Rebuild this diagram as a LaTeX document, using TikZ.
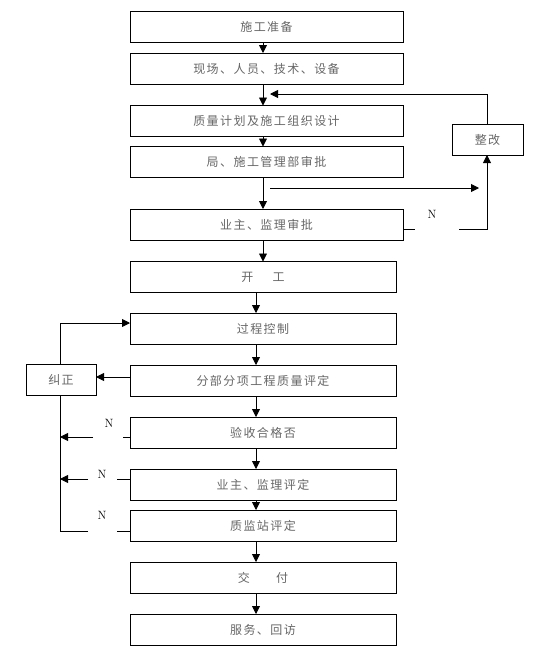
\documentclass[tikz,border=0pt]{standalone}
\usepackage{fontspec}
\newfontfamily\cjk{Noto Sans CJK SC}[LetterSpace=12]
\usetikzlibrary{arrows.meta}
\tikzset{
  box/.style={draw, line width=0.9pt, inner sep=0pt, outer sep=0pt, minimum height=31pt,
    font=\cjk\fontsize{12}{12}\selectfont, text=black!60},
  wide/.style={box, minimum width=273pt},
  narrow/.style={box, minimum width=266pt},
  conn/.style={line width=0.9pt},
  arr/.style={conn, -{Triangle[length=8pt,width=8pt]}},
  nlab/.style={font=\fontsize{12}{12}\selectfont, inner sep=0pt}
}
\begin{document}
\begin{tikzpicture}[x=1pt,y=-1pt]
\useasboundingbox (0,0) rectangle (534,656);
% top column
\node[wide] (A) at (266.5,26.5) {施工准备};
\node[wide] (B) at (266.5,68.5) {现场、人员、技术、设备};
\node[wide] (C) at (266.5,121) {质量计划及施工组织设计};
\node[wide] (D) at (266.5,162) {局、施工管理部审批};
\node[wide] (E) at (266.5,224.5) {业主、监理审批};
% lower column
\node[narrow] (F) at (263,277) {开\hspace{1.6em}工};
\node[narrow] (G) at (263,328.5) {过程控制};
\node[narrow] (H) at (263,380.5) {分部分项工程质量评定};
\node[narrow] (I) at (263,432.5) {验收合格否};
\node[narrow] (J) at (263,484.5) {业主、监理评定};
\node[narrow] (K) at (263,525.5) {质监站评定};
\node[narrow] (L) at (263,577.5) {交\hspace{2.2em}付};
\node[narrow] (M) at (263,629.5) {服务、回访};
% side boxes
\node[box, minimum width=71pt] (Z) at (487.5,139.5) {整改};
\node[box, minimum width=70pt] (R) at (61,380) {纠正};
% x positions
\coordinate (xa) at (263,0);
\coordinate (xb) at (256,0);
\coordinate (xz) at (487,0);
\coordinate (xr) at (60,0);
% main flow arrows
\draw[arr] (A.south -| xa) -- (B.north -| xa);
\draw[arr] (B.south -| xa) -- (C.north -| xa);
\draw[arr] (C.south -| xa) -- (D.north -| xa);
\draw[arr] (D.south -| xa) -- (E.north -| xa);
\draw[arr] (E.south -| xa) -- (F.north -| xa);
\draw[arr] (F.south -| xb) -- (G.north -| xb);
\draw[arr] (G.south -| xb) -- (H.north -| xb);
\draw[arr] (H.south -| xb) -- (I.north -| xb);
\draw[arr] (I.south -| xb) -- (J.north -| xb);
\draw[arr] (J.south -| xb) -- (K.north -| xb);
\draw[arr] (K.south -| xb) -- (L.north -| xb);
\draw[arr] (L.south -| xb) -- (M.north -| xb);
% rework loop (top right)
\coordinate (zt) at (270,94);
\draw[arr] (Z.north -| xz) |- (zt);
\coordinate (h1) at (270,188);
\coordinate (h2) at (479,188);
\draw[arr] (h1) -- (h2);
\coordinate (en) at (415,229);
\coordinate (ez) at (459,229);
\draw[conn] (E.east |- en) -- (en);
\draw[arr] (ez) -| (Z.south -| xz);
\node[nlab] (n0) at (432,214) {N};
% correction loop (left)
\draw[arr] (R.north -| xr) |- (G.west |- 0,323);
\draw[arr] (H.west |- 0,377) -- (R.east |- 0,377);
\coordinate (i1) at (123,437);
\coordinate (i2) at (93,437);
\coordinate (i3) at (60,437);
\draw[conn] (I.west |- i1) -- (i1);
\draw[arr] (i2) -- (i3);
\node[nlab] (n1) at (109,423) {N};
\coordinate (j1) at (117,479);
\coordinate (j2) at (88,479);
\coordinate (j3) at (60,479);
\draw[conn] (J.west |- j1) -- (j1);
\draw[arr] (j2) -- (j3);
\node[nlab] (n2) at (102,474) {N};
\coordinate (k1) at (117,531);
\coordinate (k2) at (88,531);
\draw[conn] (K.west |- k1) -- (k1);
\draw[conn] (k2) -| (R.south -| xr);
\node[nlab] (n3) at (102,515) {N};
\end{tikzpicture}
\end{document}
